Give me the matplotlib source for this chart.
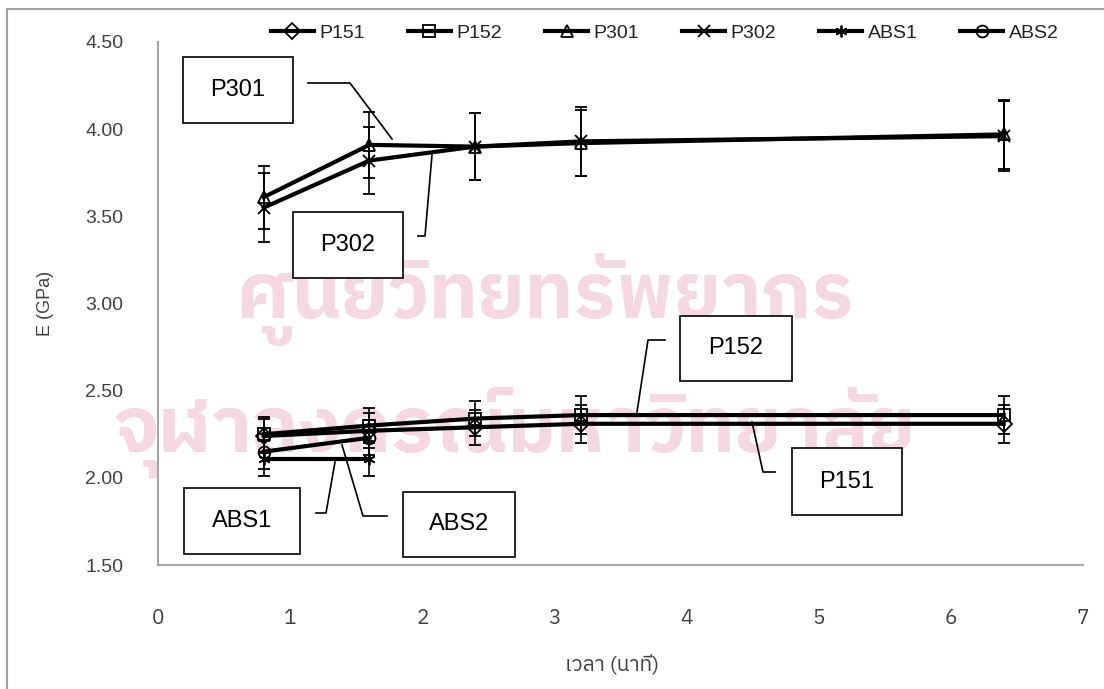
import matplotlib
matplotlib.use("Agg")
import matplotlib.pyplot as plt
from matplotlib import font_manager, ft2font
from matplotlib.lines import Line2D
from matplotlib.patches import Rectangle


# time points (minutes)
time_long = [0.8, 1.6, 2.4, 3.2, 6.4]
time_short = [0.8, 1.6]

# modulus values (GPa)
p151 = [2.24, 2.27, 2.29, 2.31, 2.31]
p152 = [2.25, 2.30, 2.34, 2.36, 2.36]
p301 = [3.61, 3.91, 3.90, 3.92, 3.97]
p302 = [3.55, 3.82, 3.90, 3.93, 3.96]
abs1 = [2.11, 2.11]
abs2 = [2.15, 2.23]

# error bars
p151_err = [0.10, 0.10, 0.10, 0.11, 0.11]
p152_err = [0.10, 0.10, 0.10, 0.11, 0.11]
p301_err = [0.18, 0.19, 0.19, 0.19, 0.20]
p302_err = [0.20, 0.19, 0.19, 0.20, 0.20]
abs1_err = [0.10, 0.10]
abs2_err = [0.10, 0.10]

series_names = ["P151", "P152", "P301", "P302", "ABS1", "ABS2"]
y_ticks = [1.5, 2.0, 2.5, 3.0, 3.5, 4.0, 4.5]
y_tick_labels = ["1.50", "2.00", "2.50", "3.00", "3.50", "4.00", "4.50"]
x_ticks = [0, 1, 2, 3, 4, 5, 6, 7]

W, H = 1104, 689


def find_thai_family():
    # look for any installed font that carries Thai glyphs
    fonts = sorted(font_manager.fontManager.ttflist,
                   key=lambda f: 0 if "thai" in f.name.lower() else 1)
    for f in fonts:
        try:
            if 0x0E40 in ft2font.FT2Font(f.fname).get_charmap():
                return f.name
        except Exception:
            pass
    return None


def fx(px):
    return px / W


def fy(py):
    return 1 - py / H


def main():
    thai = find_thai_family()
    base = ["Liberation Sans", "DejaVu Sans"]
    thai_fam = ([thai] if thai else []) + base
    plt.rcParams["font.family"] = base

    fig = plt.figure(figsize=(W / 100, H / 100), dpi=100)
    fig.patch.set_facecolor("white")

    # watermark behind the chart
    wm = "#f5d8e1"
    fig.text(fx(545), fy(300), "ศูนย์วิทยทรัพยากร", family=thai_fam,
             fontsize=56, color=wm, ha="center", va="center", zorder=-5,
             fontweight="bold")
    fig.text(fx(515), fy(432), "จุฬาลงกรณ์มหาวิทยาลัย", family=thai_fam,
             fontsize=56, color=wm, ha="center", va="center", zorder=-5,
             fontweight="bold")

    # outer frame
    frame = "#a0a0a0"
    fig.add_artist(Line2D([fx(7), 1], [fy(9), fy(9)], color=frame, lw=1.5))
    fig.add_artist(Line2D([fx(7), fx(7)], [fy(9), 0], color=frame, lw=1.5))

    ax = fig.add_axes([fx(158), fy(565), fx(1083) - fx(158), fy(42) - fy(565)])
    ax.set_facecolor("none")
    ax.set_xlim(0, 7)
    ax.set_ylim(1.5, 4.5)

    for side in ["top", "right"]:
        ax.spines[side].set_visible(False)
    for side in ["left", "bottom"]:
        ax.spines[side].set_color("#a6a6a6")
        ax.spines[side].set_linewidth(1.5)

    ax.set_yticks(y_ticks)
    ax.set_yticklabels(y_tick_labels)
    ax.set_xticks(x_ticks)
    ax.set_xticklabels([str(t) for t in x_ticks], family=thai_fam)
    ax.tick_params(axis="y", length=0, pad=25, labelsize=14, colors="#404040")
    ax.tick_params(axis="x", length=0, pad=32, labelsize=15, colors="#404040")

    style = dict(color="black", lw=3, ms=8.5, mfc="none", mew=1.3,
                 ecolor="black", elinewidth=1.2, capsize=4, capthick=1.2)
    data = [
        (time_long, p151, p151_err, "D"),
        (time_long, p152, p152_err, "s"),
        (time_long, p301, p301_err, "^"),
        (time_long, p302, p302_err, "x"),
        (time_short, abs1, abs1_err, (6, 2, 0)),
        (time_short, abs2, abs2_err, "o"),
    ]
    handles = []
    for (xs, ys, err, mk), name in zip(data, series_names):
        cont = ax.errorbar(xs, ys, yerr=err, marker=mk, label=name,
                           clip_on=False, **style)
        handles.append(cont[0])

    fig.legend(handles, series_names, loc="center", ncol=6, frameon=False,
               bbox_to_anchor=(fx(665), fy(33)), fontsize=14,
               handlelength=2.2, handletextpad=0.3, columnspacing=2.2,
               labelcolor="#222222")

    ax.set_ylabel("E (GPa)", fontsize=13, color="#404040")
    ax.yaxis.set_label_coords((54 - 158) / (1083 - 158), 0.5)
    fig.text(fx(612), fy(665), "เวลา (นาที)", family=thai_fam, fontsize=15,
             ha="center", va="center", color="#404040")

    # callout boxes: label, left, top, right, bottom (pixels)
    boxes = [
        ("P301", 183, 57, 293, 123),
        ("P302", 293, 212, 403, 278),
        ("ABS1", 184, 488, 300, 554),
        ("ABS2", 403, 492, 515, 557),
        ("P152", 680, 316, 792, 381),
        ("P151", 792, 448, 902, 515),
    ]
    for label, l, t, r, b in boxes:
        fig.add_artist(Rectangle((fx(l), fy(b)), fx(r) - fx(l), fy(t) - fy(b),
                                 fill=True, facecolor="white",
                                 edgecolor="black", lw=1.2))
        fig.text(fx((l + r) / 2), fy((t + b) / 2), label, fontsize=17,
                 ha="center", va="center")

    leaders = [
        [(308, 83), (350, 83), (392, 139)],
        [(418, 236), (425, 236), (432, 155)],
        [(316, 513), (326, 513), (335, 462)],
        [(387, 516), (363, 516), (342, 445)],
        [(637, 412), (648, 340), (665, 340)],
        [(752, 422), (763, 472), (775, 472)],
    ]
    for pts in leaders:
        fig.add_artist(Line2D([fx(p[0]) for p in pts], [fy(p[1]) for p in pts],
                              color="black", lw=1.2))

    fig.savefig("out.png", dpi=100)


if __name__ == "__main__":
    main()
